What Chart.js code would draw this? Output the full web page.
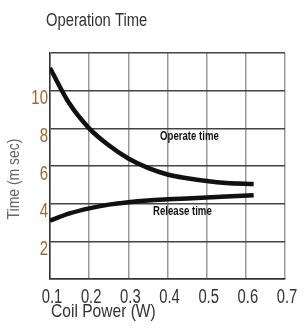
<!DOCTYPE html>
<html>
<head>
<meta charset="utf-8">
<script src="https://cdn.jsdelivr.net/npm/chart.js@4.4.1/dist/chart.umd.min.js"></script>
<style>
  html, body { margin: 0; padding: 0; background: #fff; }
  #wrap { width: 308px; height: 331px; }
</style>
</head>
<body>
<div id="wrap"><canvas id="opChart" width="308" height="331"></canvas></div>
<script>
// coil power (W)
const powerW     = [0.1, 0.15, 0.2, 0.25, 0.3, 0.35, 0.4, 0.45, 0.5, 0.55, 0.62];
// operate / release time (ms)
const operateMs  = [11.2, 9.3, 8.0, 7.1, 6.4, 5.9, 5.55, 5.35, 5.2, 5.1, 5.05];
const releaseMs  = [3.1, 3.48, 3.75, 3.95, 4.08, 4.17, 4.23, 4.28, 4.33, 4.38, 4.45];
// axis ticks
const xTicks = [0.1, 0.2, 0.3, 0.4, 0.5, 0.6, 0.7];
const yTicks = [2, 4, 6, 8, 10];

const FONT = '"Liberation Sans", Arial, sans-serif';

// the scan uses a narrow face, so squeeze Arial-metric text sideways
function narrowText(ctx, text, x, y, opts) {
    ctx.save();
    ctx.translate(x, y);
    if (opts.rotate) ctx.rotate(opts.rotate);
    ctx.scale(opts.sx || 0.82, 1);
    ctx.font = opts.font;
    ctx.fillStyle = opts.color;
    ctx.textAlign = opts.align || 'left';
    ctx.textBaseline = opts.baseline || 'middle';
    ctx.fillText(text, 0, 0);
    ctx.restore();
}

// titles, tick labels and curve captions
const textPlugin = {
    id: 'texts',
    afterDraw(chart) {
        const ctx = chart.ctx;
        const xs = chart.scales.x, ys = chart.scales.y;

        narrowText(ctx, 'Operation Time', 46, 21, { font: '18px ' + FONT, color: '#333' });

        // y axis title
        narrowText(ctx, 'Time (m sec)', 14, 179, {
            font: '17px ' + FONT, color: '#666', align: 'center', rotate: -Math.PI / 2
        });

        // x axis title
        narrowText(ctx, 'Coil Power (W)', 51, 312, { font: '19px ' + FONT, color: '#333' });

        // tick labels
        yTicks.forEach(v => {
            narrowText(ctx, String(v), 48, ys.getPixelForValue(v) + 8, {
                font: '20px ' + FONT, color: '#a0662e', align: 'right', sx: 0.75
            });
        });
        xTicks.forEach(v => {
            narrowText(ctx, v.toFixed(1), xs.getPixelForValue(v) + 2, 287, {
                font: '20px ' + FONT, color: '#333', align: 'center', baseline: 'top', sx: 0.74
            });
        });

        // captions
        narrowText(ctx, 'Operate time', xs.getPixelForValue(0.456), ys.getPixelForValue(7.57), {
            font: 'bold 12px ' + FONT, color: '#111', align: 'center', sx: 0.8
        });
        narrowText(ctx, 'Release time', xs.getPixelForValue(0.438), ys.getPixelForValue(3.55), {
            font: 'bold 12px ' + FONT, color: '#111', align: 'center', sx: 0.8
        });
    }
};

function toPoints(xArr, yArr) {
    return xArr.map((x, i) => ({ x: x, y: yArr[i] }));
}

const curveStyle = {
    borderColor: '#111',
    borderWidth: 4.5,
    pointRadius: 0,
    tension: 0.4,
    cubicInterpolationMode: 'monotone',
    fill: false
};

new Chart(document.getElementById('opChart'), {
    type: 'line',
    data: {
        datasets: [
            Object.assign({ label: 'Operate time', data: toPoints(powerW, operateMs) }, curveStyle),
            Object.assign({ label: 'Release time', data: toPoints(powerW, releaseMs) }, curveStyle)
        ]
    },
    options: {
        responsive: false,
        animation: false,
        devicePixelRatio: 1,
        layout: { padding: { top: 53, right: 23, left: 0, bottom: 0 } },
        plugins: {
            legend: { display: false },
            tooltip: { enabled: false },
            title: { display: false }
        },
        scales: {
            x: {
                type: 'linear',
                min: xTicks[0],
                max: xTicks[xTicks.length - 1],
                afterBuildTicks: (s) => { s.ticks = xTicks.map(v => ({ value: v })); },
                afterFit: (s) => { s.height = 52; },
                grid: { color: '#999', lineWidth: 1.5, drawTicks: false },
                border: { color: '#333', width: 1.5 },
                ticks: { display: false }
            },
            y: {
                min: 0,
                max: 12,
                afterBuildTicks: (s) => { s.ticks = [0].concat(yTicks, [12]).map(v => ({ value: v })); },
                afterFit: (s) => { s.width = 50; },
                grid: { color: '#444', lineWidth: 1.5, drawTicks: false },
                border: { color: '#333', width: 1.5 },
                ticks: { display: false }
            }
        }
    },
    plugins: [textPlugin]
});
</script>
</body>
</html>
